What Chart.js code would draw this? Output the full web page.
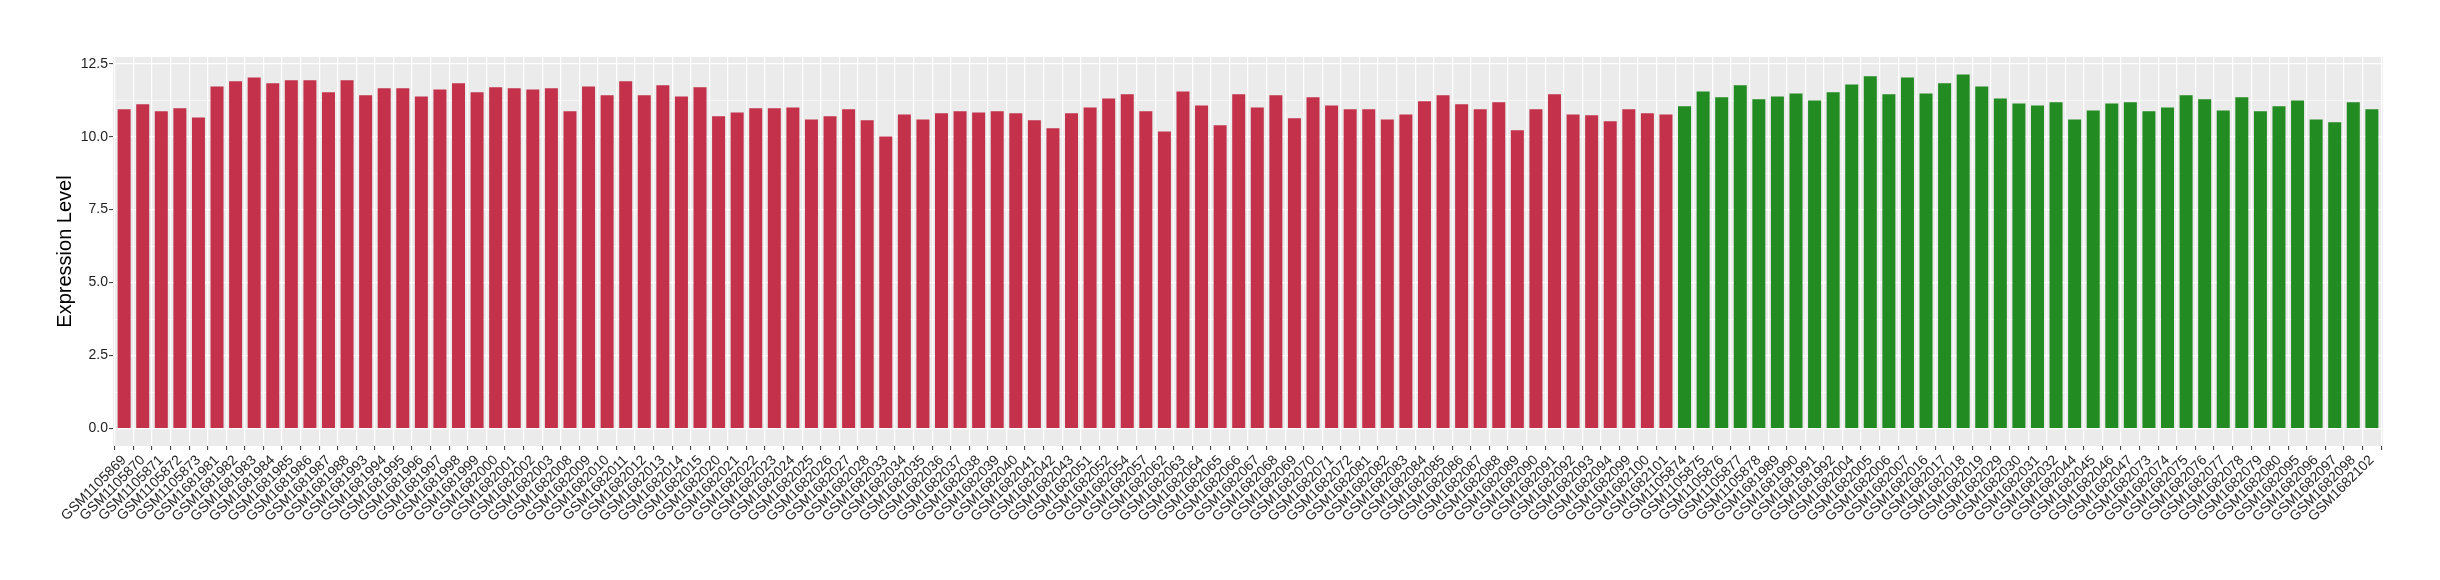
<!DOCTYPE html>
<html>
<head>
<meta charset="utf-8">
<script src="https://cdn.jsdelivr.net/npm/chart.js@4/dist/chart.umd.min.js"></script>
<style>
html, body { margin: 0; padding: 0; background: #ffffff; }
#wrap { width: 2440px; height: 580px; }
</style>
</head>
<body>
<div id="wrap"><canvas id="c" width="2440" height="580"></canvas></div>
<script>
// ---- data ----
const samplesGroup1 = [
  'GSM1105869','GSM1105870','GSM1105871','GSM1105872','GSM1105873','GSM1681981','GSM1681982','GSM1681983',
  'GSM1681984','GSM1681985','GSM1681986','GSM1681987','GSM1681988','GSM1681993','GSM1681994','GSM1681995',
  'GSM1681996','GSM1681997','GSM1681998','GSM1681999','GSM1682000','GSM1682001','GSM1682002','GSM1682003',
  'GSM1682008','GSM1682009','GSM1682010','GSM1682011','GSM1682012','GSM1682013','GSM1682014','GSM1682015',
  'GSM1682020','GSM1682021','GSM1682022','GSM1682023','GSM1682024','GSM1682025','GSM1682026','GSM1682027',
  'GSM1682028','GSM1682033','GSM1682034','GSM1682035','GSM1682036','GSM1682037','GSM1682038','GSM1682039',
  'GSM1682040','GSM1682041','GSM1682042','GSM1682043','GSM1682051','GSM1682052','GSM1682054','GSM1682057',
  'GSM1682062','GSM1682063','GSM1682064','GSM1682065','GSM1682066','GSM1682067','GSM1682068','GSM1682069',
  'GSM1682070','GSM1682071','GSM1682072','GSM1682081','GSM1682082','GSM1682083','GSM1682084','GSM1682085',
  'GSM1682086','GSM1682087','GSM1682088','GSM1682089','GSM1682090','GSM1682091','GSM1682092','GSM1682093',
  'GSM1682094','GSM1682099','GSM1682100','GSM1682101'
];
const valuesGroup1 = [
  10.94, 11.11, 10.87, 10.97, 10.66, 11.72, 11.90, 12.03,
  11.83, 11.93, 11.93, 11.52, 11.93, 11.42, 11.66, 11.66,
  11.38, 11.62, 11.83, 11.52, 11.69, 11.66, 11.62, 11.66,
  10.87, 11.72, 11.42, 11.90, 11.42, 11.76, 11.38, 11.69,
  10.70, 10.83, 10.97, 10.97, 11.00, 10.59, 10.70, 10.94,
  10.56, 10.01, 10.76, 10.59, 10.80, 10.87, 10.83, 10.87,
  10.80, 10.56, 10.29, 10.80, 11.00, 11.31, 11.45, 10.87,
  10.18, 11.55, 11.07, 10.39, 11.45, 11.00, 11.42, 10.63,
  11.35, 11.07, 10.94, 10.94, 10.59, 10.76, 11.21, 11.42,
  11.11, 10.94, 11.18, 10.22, 10.94, 11.45, 10.76, 10.73,
  10.53, 10.94, 10.80, 10.76
];
const samplesGroup2 = [
  'GSM1105874','GSM1105875','GSM1105876','GSM1105877','GSM1105878','GSM1681989','GSM1681990','GSM1681991',
  'GSM1681992','GSM1682004','GSM1682005','GSM1682006','GSM1682007','GSM1682016','GSM1682017','GSM1682018',
  'GSM1682019','GSM1682029','GSM1682030','GSM1682031','GSM1682032','GSM1682044','GSM1682045','GSM1682046',
  'GSM1682047','GSM1682073','GSM1682074','GSM1682075','GSM1682076','GSM1682077','GSM1682078','GSM1682079',
  'GSM1682080','GSM1682095','GSM1682096','GSM1682097','GSM1682098','GSM1682102'
];
const valuesGroup2 = [
  11.04, 11.55, 11.35, 11.76, 11.28, 11.38, 11.48, 11.24,
  11.52, 11.79, 12.07, 11.45, 12.03, 11.48, 11.83, 12.13,
  11.72, 11.31, 11.14, 11.07, 11.18, 10.59, 10.90, 11.14,
  11.18, 10.87, 11.00, 11.42, 11.28, 10.90, 11.35, 10.87,
  11.04, 11.24, 10.59, 10.49, 11.18, 10.94
];
const yMajorTicks = [0, 2.5, 5, 7.5, 10, 12.5];
const yTickLabels = ['0.0', '2.5', '5.0', '7.5', '10.0', '12.5'];
const yAxisTitle = 'Expression Level';

// ---- build ----
const allSamples = samplesGroup1.concat(samplesGroup2);
const COLOR1 = '#C3324A';
const COLOR2 = '#228B22';
const TEXT = '#1E1E1E';

function majorIndex(v) {
  for (let i = 0; i < yMajorTicks.length; i++) {
    if (Math.abs(yMajorTicks[i] - v) < 1e-6) return i;
  }
  return -1;
}

const panelBg = {
  id: 'panelBg',
  beforeDraw(chart) {
    const { ctx, chartArea: a } = chart;
    ctx.save();
    ctx.fillStyle = '#EBEBEB';
    ctx.fillRect(a.left, a.top, a.right - a.left, a.bottom - a.top);
    ctx.restore();
  }
};

new Chart(document.getElementById('c').getContext('2d'), {
  type: 'bar',
  data: {
    datasets: [
      {
        label: 'Group 1',
        data: valuesGroup1.map((v, i) => ({ x: i, y: v })),
        backgroundColor: COLOR1,
        borderWidth: 0,
        grouped: false,
        categoryPercentage: 1,
        barPercentage: 0.7
      },
      {
        label: 'Group 2',
        data: valuesGroup2.map((v, i) => ({ x: i + samplesGroup1.length, y: v })),
        backgroundColor: COLOR2,
        borderWidth: 0,
        grouped: false,
        categoryPercentage: 1,
        barPercentage: 0.7
      }
    ]
  },
  options: {
    responsive: false,
    animation: false,
    devicePixelRatio: 1,
    layout: { padding: { top: 57, right: 57, left: 0, bottom: 0 } },
    plugins: { legend: { display: false }, tooltip: { enabled: false } },
    scales: {
      x: {
        type: 'linear',
        min: -0.6,
        max: allSamples.length - 1 + 0.6,
        offset: false,
        border: { display: false },
        grid: {
          color: '#FFFFFF',
          lineWidth: 1.2,
          tickColor: '#333333',
          tickLength: 4,
          tickWidth: 1
        },
        ticks: {
          stepSize: 1,
          includeBounds: false,
          autoSkip: false,
          maxRotation: 45,
          minRotation: 45,
          padding: 2,
          color: TEXT,
          font: { family: 'Liberation Sans', size: 14 },
          callback: (v) => (allSamples[v] !== undefined ? allSamples[v] : '')
        },
        afterFit: (s) => { s.height = 134; }
      },
      y: {
        min: -0.6,
        max: 12.73,
        border: { display: false },
        grid: {
          color: '#FFFFFF',
          lineWidth: (c) => (c.tick && majorIndex(c.tick.value) >= 0 ? 1.2 : 0.6),
          tickColor: (c) => (c.tick && majorIndex(c.tick.value) >= 0 ? '#333333' : 'rgba(0,0,0,0)'),
          tickLength: 4,
          tickWidth: 1
        },
        ticks: {
          stepSize: 1.25,
          includeBounds: false,
          padding: 1,
          color: TEXT,
          font: { family: 'Liberation Sans', size: 14 },
          callback: (v) => { const k = majorIndex(v); return k >= 0 ? yTickLabels[k] : ''; }
        },
        title: {
          display: true,
          text: yAxisTitle,
          color: '#000000',
          font: { family: 'Liberation Sans', size: 20 },
          padding: { top: 53, bottom: 0 }
        },
        afterFit: (s) => { s.width = 113; }
      }
    }
  },
  plugins: [panelBg]
});
</script>
</body>
</html>
